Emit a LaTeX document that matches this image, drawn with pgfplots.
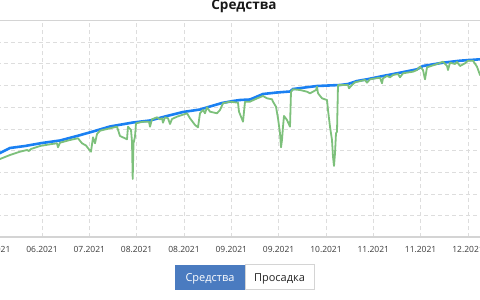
\documentclass[border=0pt]{standalone}
\usepackage{pgfplots}
\pgfplotsset{compat=1.18}
\usepackage{fontspec}
\setmainfont{Open Sans}
\definecolor{gridc}{HTML}{DDDDDD}
\definecolor{axc}{HTML}{D4D4D4}
\definecolor{bal}{HTML}{1A80F2}
\definecolor{eq}{HTML}{7DC07B}
\definecolor{btn}{HTML}{4A7BC0}
\definecolor{lbl}{HTML}{3A3A3A}
\begin{document}
\begin{tikzpicture}[x=1pt,y=1pt]
\path[use as bounding box] (0,0) rectangle (480,300);
\clip (0,0) rectangle (480,300);
\begin{axis}[
  at={(0pt,62.5pt)}, anchor=origin,
  x=1pt, y=1pt,
  xmin=-10, xmax=490, ymin=0, ymax=217,
  axis line style={draw=none},
  tick style={draw=none},
  xtick={-5.3,42,89.3,136.6,184,231.3,278.6,326,373.3,420.6,468},
  xticklabels={05.2021,06.2021,07.2021,08.2021,08.2021,09.2021,09.2021,10.2021,11.2021,11.2021,12.2021},
  xticklabel style={font=\fontsize{8.5}{10}\selectfont, text=lbl, yshift=-5pt},
  ytick={21.7,43.4,65.1,86.8,108.5,130.2,151.9,173.6,195.3},
  yticklabels={},
  grid=major,
  major grid style={dash pattern=on 4pt off 3pt, gridc, line width=0.8pt},
  extra y ticks={0.5,217},
  extra y tick labels={},
  extra y tick style={grid=major, major grid style={solid, axc, line width=1.6pt}},
  clip=false,
]
\addplot[bal, line width=2.6pt, line join=round] coordinates {
(-10,82) (0,84.5) (10,89.5) (25,91.5) (42,94.5) (60,97) (77,101.5) (93,106)
(110,111) (133,115) (150,117) (167,121.5) (183,125.5) (200,128) (210,131)
(222,134.5) (233,136.5) (240,137.5) (250,138) (263,143.5) (277,145) (290,146)
(293,148.5) (317,151.5) (340,152.5) (348,153.5) (357,156.5) (367,158.2)
(383,161.5) (400,164.8) (417,168.2) (423,171.5) (443,174.8) (460,176.8) (480,178.2) (490,179)
};
\addplot[eq, line width=1.8pt, line join=round] coordinates {
(-10,76) (0,78.5) (10,82.5) (20,85.8) (27,87.5) (29,86.5) (31,88.5) (40,91.5)
(50,93.2) (57,94.2) (58,90.2) (60,94.8) (70,97.5) (78,99.2) (82,94.2) (86,92)
(90,86.8) (91,85.8) (93,100.2) (95,94.2) (97,103.5) (100,106.8) (110,109.2)
(117,110.8) (120,101.5) (125,99.2) (127,98.2) (128,110.8) (131,107.5) (132,95.8)
(132.7,58.5) (133.5,94.2) (135,100.8) (136,114.2) (143,115.8) (149,115.8)
(150,110.8) (152,118.2) (157,120.2) (160,118.2) (162,119.2) (163,114.8)
(165,120.2) (168,119.2) (170,113.5) (172,118.5) (177,120.8) (187,124.2)
(190,119.2) (195,112.5) (198,110.2) (200,124.2) (203,127.5) (205,124.2)
(207,130.2) (210,125.8) (217,124.2) (220,127.5) (223,134.2) (230,135.8)
(238,134.8) (239,125.8) (243,115.8) (245,135.8) (250,135.8) (255,138.2)
(263,141.5) (267,139.2) (272,138.2) (273,135.8) (276,130.8) (278,119.2)
(280,104.2) (281,90.2) (282,97.5) (283,110.8) (284,121.5) (287,117.5)
(290,110.8) (291,145.8) (293,148.2) (300,147.5) (307,145.8) (310,144.2)
(313,145.8) (316,147.5) (317,150.8) (318,144.2) (322,139.2) (327,137.5)
(328,127.5) (330,110.8) (332,97.5) (333,80.8) (334,71.5) (335,84.2)
(336,104.2) (337,105.8) (338,152.5) (343,152.5) (348,152.5) (349,149.2)
(352,152.5) (355,155.2) (365,157.5) (367,154.8) (370,158.2) (380,159.8)
(382,154.2) (383,159.2) (387,161.5) (390,160.2) (393,162.5) (398,163.5)
(400,160.2) (403,164.2) (413,165.8) (417,167.5) (420,170.8) (423,167.5)
(425,158.2) (427,170.2) (437,173.5) (443,175.8) (447,171.5) (448,167.5)
(450,174.8) (455,173.5) (457,175.5) (460,171.5) (465,174.2) (468,176.8)
(473,176.8) (477,170.8) (480,162.5) (485,165)
};
\end{axis}
\node[anchor=base, font=\bfseries\fontsize{13.5}{16}\selectfont, text=black!90] at (244,290.5) {Средства};
\fill[btn] (175,10.3) rectangle (245,35.3);
\draw[axc, fill=white, line width=0.8pt] (245,10.3) rectangle (314,35.3);
\node[anchor=base, font=\fontsize{11}{13}\selectfont, text=white] at (210,18.7) {Средства};
\node[anchor=base, font=\fontsize{11}{13}\selectfont, text=black!85] at (279.5,18.7) {Просадка};
\end{tikzpicture}
\end{document}
